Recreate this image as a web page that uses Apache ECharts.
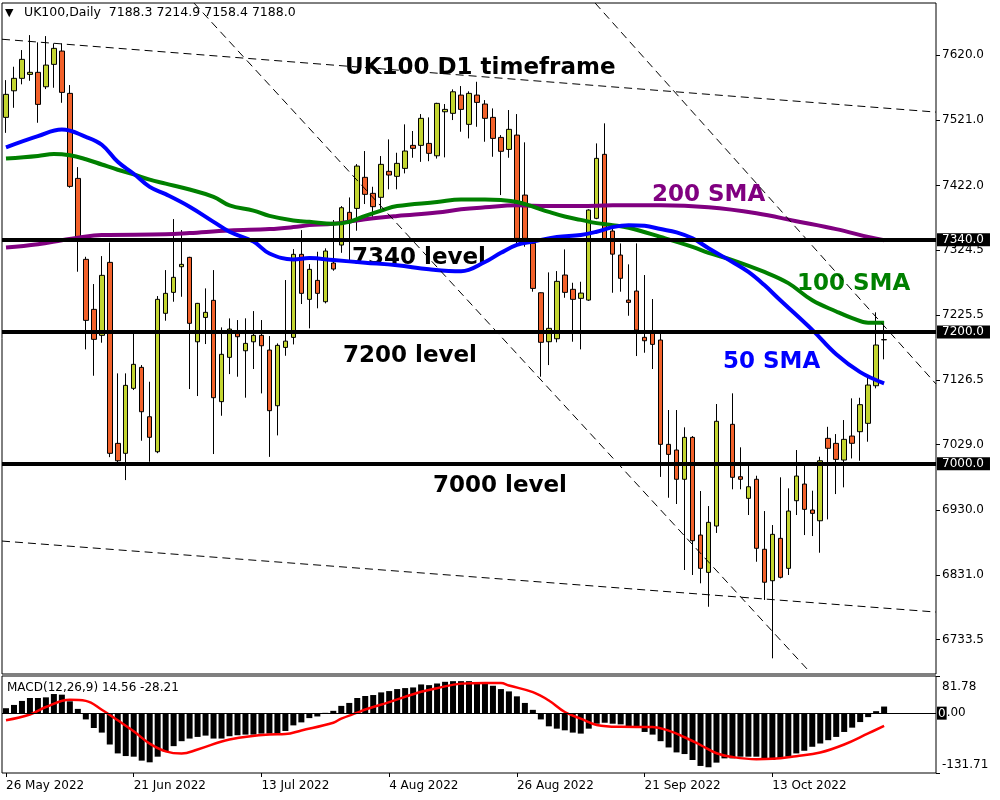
<!DOCTYPE html>
<html><head><meta charset="utf-8">
<script src="https://cdn.jsdelivr.net/npm/echarts@6/dist/echarts.min.js"></script>
<style>html,body{margin:0;padding:0;background:#fff}#c{width:1000px;height:800px}</style>
</head><body><div id="c"></div>
<script>
const dates = ['26 May 2022','27 May 2022','30 May 2022','31 May 2022','1 Jun 2022','6 Jun 2022','7 Jun 2022','8 Jun 2022','9 Jun 2022','10 Jun 2022',
'13 Jun 2022','14 Jun 2022','15 Jun 2022','16 Jun 2022','17 Jun 2022','20 Jun 2022','21 Jun 2022','22 Jun 2022','23 Jun 2022','24 Jun 2022',
'27 Jun 2022','28 Jun 2022','29 Jun 2022','30 Jun 2022','1 Jul 2022','4 Jul 2022','5 Jul 2022','6 Jul 2022','7 Jul 2022','8 Jul 2022',
'11 Jul 2022','12 Jul 2022','13 Jul 2022','14 Jul 2022','15 Jul 2022','18 Jul 2022','19 Jul 2022','20 Jul 2022','21 Jul 2022','22 Jul 2022',
'25 Jul 2022','26 Jul 2022','27 Jul 2022','28 Jul 2022','29 Jul 2022','1 Aug 2022','2 Aug 2022','3 Aug 2022','4 Aug 2022','5 Aug 2022',
'8 Aug 2022','9 Aug 2022','10 Aug 2022','11 Aug 2022','12 Aug 2022','15 Aug 2022','16 Aug 2022','17 Aug 2022','18 Aug 2022','19 Aug 2022',
'22 Aug 2022','23 Aug 2022','24 Aug 2022','25 Aug 2022','26 Aug 2022','30 Aug 2022','31 Aug 2022','1 Sep 2022','2 Sep 2022','5 Sep 2022',
'6 Sep 2022','7 Sep 2022','8 Sep 2022','9 Sep 2022','12 Sep 2022','13 Sep 2022','14 Sep 2022','15 Sep 2022','16 Sep 2022','20 Sep 2022',
'21 Sep 2022','22 Sep 2022','23 Sep 2022','26 Sep 2022','27 Sep 2022','28 Sep 2022','29 Sep 2022','30 Sep 2022','3 Oct 2022','4 Oct 2022',
'5 Oct 2022','6 Oct 2022','7 Oct 2022','10 Oct 2022','11 Oct 2022','12 Oct 2022','13 Oct 2022','14 Oct 2022','17 Oct 2022','18 Oct 2022',
'19 Oct 2022','20 Oct 2022','21 Oct 2022','24 Oct 2022','25 Oct 2022','26 Oct 2022','27 Oct 2022','28 Oct 2022','31 Oct 2022','1 Nov 2022',
'2 Nov 2022'];
const emptySlots = 6;

const opens = [7525.5,7565.8,7584.7,7590.7,7593.8,7571.9,7605.9,7626.1,7561.9,7432.9,
7310.1,7234.2,7194.8,7305.5,7030.9,7015.8,7114.4,7146.2,7071.3,7018.2,
7228.2,7260,7298.9,7313.1,7185,7222,7247.9,7094.2,7161.4,7198.7,
7171.4,7185,7194.8,7172.5,7088,7176.5,7191.7,7317.7,7249.4,7278.2,
7245.8,7304.5,7331.8,7381.4,7387.4,7434.5,7410.2,7404.2,7443.6,7436,
7448.1,7483,7483,7486,7467.2,7534,7531.6,7559.3,7514.9,7559.3,
7545.7,7525.5,7495.1,7476.9,7498.6,7407.6,7334.3,7259.4,7185.1,7189.6,
7286.3,7264.6,7250.9,7248.3,7372.3,7469.4,7353,7316.6,7248.3,7262,
7191.8,7197.8,7187.7,7029.4,7020.8,6976.4,7040,6891.8,6835.2,6905.5,
null,7059.8,6980.3,6947.5,6976.4,6870.2,6822.5,6886.8,6841.3,6943.9,
6969.2,6929.8,6913.5,7038.5,7030.9,7005.6,7042,7048.6,7061.3,7118.3,
7188.3];
const highs = [7582,7602.3,7627.6,7650.3,7639.3,7648.8,7637.7,7637.7,7574.5,7450,
7314,7272.6,7315,7335.9,7137.1,7137.1,7197.8,7149.7,7124.4,7254.4,
7293.8,7371.2,7354.5,7314,7244,7266,7293.8,7206.9,7220.5,7218,
7220.6,7231.6,7218,7193.7,7182.6,7278.7,7325.7,7354.5,7302.9,7321.6,
7326.8,7369.7,7390.9,7404,7454.6,7474.4,7420.2,7466.8,7492.1,7471.8,
7514.9,7504.8,7530.5,7525.5,7547.6,7545.7,7568,7573,7565,7579.5,
7551.7,7539.1,7498.6,7536.6,7530.5,7487.6,7341.9,7260,7290.3,7292.3,
7325.2,7274.6,7276.1,7386,7486,7516.4,7358,7334.3,7302.5,7334.3,
7286.3,7249.9,7197.8,7081.5,7081.5,7055.2,7042,6958.6,6935.8,7090.6,
null,7106.8,7024.9,6998,6981.8,6928.2,6907,6979.4,6962.7,7020.8,
6997.9,6959.1,7010.6,7056,7045,7066.3,7099.2,7100.1,7132,7229.7,
7214.9];
const lows = [7502,7540,7575.6,7581,7517.3,7568.4,7570.4,7547.6,7418.7,7291.3,
7173.5,7133.5,7183.6,7010,7002,6975.2,7111.8,7034.9,7003,7016,
7217,7245.8,7253.3,7113.3,7102.7,7181.6,7014.7,7072.8,7136,7132,
7100.2,7143.7,7106.7,7010.4,7043,7163.8,7181,7242.3,7205.4,7235.8,
7243.3,7292.8,7320,7309,7353.5,7394,7374.7,7384.9,7416.3,7416.3,
7440.5,7464.2,7458,7459,7463,7464.8,7521.4,7503.7,7493.6,7511.2,
7488.5,7465.7,7407.6,7464.2,7329.2,7329.2,7261,7132,7149.7,7184.2,
7251.8,7185.1,7173.5,7247,7371,7337,7259.4,7261,7224.5,7163.4,
7168.4,7143.7,6980,6948.4,6938.9,6838.8,6831.2,6818.6,6783,6895,
null,6961.2,6961.2,6922.2,6851.3,6793.3,6704.8,6826,6831.2,6922.2,
6891.8,6890.3,6865,6915.6,6954,6964.2,7008,7004.5,7033.4,7114.4,
7158.4];
const closes = [7560.4,7584.7,7613.5,7593.8,7545.2,7604.8,7630.2,7563.4,7420.8,7342,
7217.5,7188.7,7285.8,7015.8,7004.5,7118.9,7150.8,7078.9,7040.1,7249.4,
7258.5,7282.8,7302.5,7213,7243.3,7229.7,7100.2,7166,7204.3,7192.7,
7182.6,7194.8,7179,7080.5,7179.6,7186,7317.7,7258.5,7294.9,7258.5,
7322.7,7295.4,7388.4,7365.6,7451.6,7408.7,7390,7454.2,7438,7455.7,
7474.4,7478.5,7524,7470.9,7546.7,7537.6,7564.3,7537.6,7561.9,7548.2,
7524,7493.6,7474,7507.3,7341.9,7341.9,7266,7184.2,7205.4,7276.7,
7260,7249.4,7258.9,7384.9,7463.3,7337.8,7318,7281.3,7244.8,7202.8,
7186.6,7181.1,7029.4,7014.2,6976.4,7040,6883.2,6841.3,6911.1,7064.4,
null,6979.4,6976.4,6965.1,6871.7,6820.2,6892.9,6827.7,6928.2,6981.3,
6930.8,6924.7,7004.5,7023.4,7006.6,7037,7031,7089.6,7119.4,7180.1,
7188.0];

const sma50 = [[0,7480],[4,7497],[7,7507],[10,7496],[12,7484],[14,7458],[16,7440],[18,7420],[20,7409],[23,7390],[26,7367],[28,7352],[31,7337],[33,7319],[36,7310],[38,7312],[41,7309],[45,7305],[49,7301],[53,7295],[57,7292],[60,7306],[62,7320],[64,7332],[66,7337],[69,7344],[72,7347],[74,7352],[76,7359],[78,7362],[80,7361],[82,7356],[84,7351],[86,7342],[88,7327],[91,7306],[93,7291],[95,7271],[97,7248],[101,7203],[104,7166],[107,7139],[110,7122]];
const sma100 = [[0,7463],[4,7467],[6,7470],[8,7468],[10,7462],[12,7454],[14,7446],[16,7439],[18,7431],[20,7425],[23,7416],[26,7405],[28,7392],[31,7384],[33,7376],[36,7369],[38,7367],[41,7364],[43,7367],[45,7376],[47,7384],[49,7391],[54,7397],[57,7401],[60,7401],[62,7400],[64,7397],[66,7390],[68,7382],[70,7375],[72,7370],[74,7365],[76,7362],[78,7358],[82,7344],[86,7329],[88,7320],[91,7309],[95,7291],[98,7274],[101,7248],[104,7231],[106,7221],[108,7214],[110,7214]];
const sma200 = [[0,7328],[4,7333],[7,7339],[9,7343],[12,7347],[20,7348],[23,7350],[28,7354],[33,7356],[36,7359],[38,7362],[41,7364],[45,7371],[49,7376],[54,7381],[57,7386],[60,7389],[64,7392],[68,7391],[72,7391],[76,7392],[82,7392],[88,7389],[94,7380],[99,7368],[104,7356],[108,7344],[110,7339]];

const trendTop = [[-0.5,7644],[116.5,7533.5]];
const trendBottom = [[-0.5,6882.7],[116.5,6775]];
const trendSteep1 = [[23.55,7698.9],[100.47,6687]];
const trendSteep2 = [[73.8,7698.9],[116.5,7121]];

const levels = [7340, 7200, 7000];
const lastPrice = 7188.0;
const priceTicks = [7620.0,7521.0,7422.0,7324.5,7225.5,7126.5,7029.0,6930.0,6831.0,6733.5];

const macdHist = [10.9,18.1,26.9,33.4,33.4,34.8,42.1,40.7,26.1,9.4,
-13.8,-32.7,-42.8,-69,-88.6,-94.4,-95.8,-104.5,-108.2,-95.8,
-84.2,-72.6,-61.7,-55.9,-52.3,-49.4,-55.9,-55.9,-50.8,-48.6,
-47.2,-47.2,-45,-45,-45,-39.2,-26.9,-20.3,-10.9,-7.3,
0.7,5.1,16,22.5,33.4,37.8,39.9,45.7,48.6,53,
55.2,56.6,63.2,61.7,65.3,69,70.4,70.4,70.4,67.5,
67,60.3,53,47.9,37,22.5,7.3,-13.8,-29,-34.1,
-37.8,-42.8,-45,-34.1,-23.2,-21.1,-23.2,-24.7,-28.3,-29,
-41.4,-47.2,-61.7,-75.5,-86.4,-90,-103.1,-116.2,-119.1,-108.9,
-99.5,-99.5,-95.8,-95.8,-95.8,-101.6,-103.1,-99.5,-95.8,-88.6,
-82.8,-74,-66.8,-59.5,-52.3,-41.4,-31.9,-19.6,-8.7,4.4,14.56];
const macdSignal = [[0,-15.7],[3,-3],[5,13.5],[8,29.4],[10,27],[12,7.6],[14,-15.7],[16,-40],[18,-67],[20,-84],[22,-89],[24,-80],[28,-58],[33,-46.8],[35,-46],[37,-38],[41,-21],[42,-12],[44,1],[45,8],[48,24.4],[52,47],[54,55],[57,65],[60,66.4],[62,66.4],[63,61],[66,46.2],[68,27.9],[70,2.6],[72,-12],[74,-26],[77,-30.1],[81,-30.5],[83,-38.5],[85,-53],[87,-70.1],[89,-88.2],[91,-96.5],[94,-101.3],[96,-100.6],[99,-94.7],[102,-86.7],[105,-69],[108,-44.6],[110,-28.21]];
const macdTicks = [81.78, -131.71];

const cats = dates.concat(new Array(emptySlots).fill(''));
const candles = dates.map((d,i)=> opens[i]==null ? ['-','-','-','-'] : [opens[i], closes[i], lows[i], highs[i]]);
const nCat = cats.length;
const FONT = 'DejaVu Sans';

const chart = echarts.init(document.getElementById('c'), null, {renderer:'canvas'});
const dashed = (d)=>({type:'line', xAxisIndex:2, yAxisIndex:0, data:d, showSymbol:false, silent:true, z:4,
  lineStyle:{color:'#000', width:1, type:[8,5]}});
const levelLabel = (txt)=>({show:true, position:'end', distance:1, formatter:txt, backgroundColor:'#000', color:'#fff',
  fontFamily:FONT, fontSize:12, padding:[1,6,0,5]});

chart.setOption({
  animation:false,
  backgroundColor:'#fff',
  grid:[
    {left:2, top:3, width:934, height:671, show:true, borderColor:'#000', borderWidth:1, backgroundColor:'#fff'},
    {left:2, top:676, width:934, height:97, show:true, borderColor:'#000', borderWidth:1, backgroundColor:'#fff'}
  ],
  xAxis:[
    {type:'category', gridIndex:0, data:cats, boundaryGap:true, axisLine:{show:false, onZero:false}, axisTick:{show:false}, axisLabel:{show:false}, splitLine:{show:false}},
    {type:'category', gridIndex:1, data:cats, boundaryGap:true, axisLine:{show:false, onZero:false},
     axisTick:{show:true, alignWithLabel:true, length:4, lineStyle:{color:'#000'}, interval:(i,v)=> i%16===0 && v!==''},
     axisLabel:{interval:(i,v)=> i%16===0 && v!=='', align:'left', margin:7, color:'#000', fontFamily:FONT, fontSize:12},
     splitLine:{show:false}},
    {type:'value', gridIndex:0, min:-0.5, max:nCat-0.5, show:false, axisLine:{onZero:false}},
    {type:'value', gridIndex:1, min:-0.5, max:nCat-0.5, show:false, axisLine:{onZero:false}}
  ],
  yAxis:[
    {type:'value', gridIndex:0, position:'right', min:6681, max:7699, scale:true, splitLine:{show:false},
     axisLine:{show:false, onZero:false},
     axisTick:{show:true, length:4, customValues:priceTicks, lineStyle:{color:'#000'}},
     axisLabel:{customValues:priceTicks, formatter:(v)=>v.toFixed(1), margin:6, color:'#000', fontFamily:FONT, fontSize:12}},
    {type:'value', gridIndex:1, position:'right', min:-131.71, max:81.78, splitLine:{show:false},
     axisLine:{show:false, onZero:false},
     axisTick:{show:true, length:4, customValues:macdTicks, lineStyle:{color:'#000'}},
     axisLabel:{customValues:macdTicks, margin:6, color:'#000', fontFamily:FONT, fontSize:12,
       formatter:(v)=> v>0 ? '{t|'+v.toFixed(2)+'}' : '{b|'+v.toFixed(2)+'}',
       rich:{t:{padding:[21,0,0,0], fontFamily:FONT, fontSize:12, color:'#000'}, b:{padding:[0,0,17,0], fontFamily:FONT, fontSize:12, color:'#000'}}}}
  ],
  series:[
    {type:'candlestick', name:'UK100', xAxisIndex:0, yAxisIndex:0, data:candles, barWidth:5, z:2,
     itemStyle:{color:'#c3d530', color0:'#f2612a', borderColor:'#000', borderColor0:'#000', borderWidth:1}},
    {type:'line', name:'200 SMA', xAxisIndex:2, yAxisIndex:0, data:sma200, smooth:0.4, showSymbol:false, z:3, lineStyle:{color:'#800080', width:4}},
    {type:'line', name:'100 SMA', xAxisIndex:2, yAxisIndex:0, data:sma100, smooth:0.4, showSymbol:false, z:3, lineStyle:{color:'#008000', width:4}},
    {type:'line', name:'50 SMA', xAxisIndex:2, yAxisIndex:0, data:sma50, smooth:0.4, showSymbol:false, z:3, lineStyle:{color:'#0000ff', width:4}},
    dashed(trendTop), dashed(trendBottom), dashed(trendSteep1), dashed(trendSteep2),
    {type:'line', name:'levels', xAxisIndex:2, yAxisIndex:0, data:[], z:6, silent:true,
     markLine:{silent:true, symbol:['none','none'], animation:false,
       data:[
         {yAxis:lastPrice, lineStyle:{width:0, opacity:0}, label:levelLabel(lastPrice.toFixed(1))},
         ...levels.map(v=>({yAxis:v, lineStyle:{color:'#000', width:4, type:'solid'}, label:levelLabel(v.toFixed(1))}))
       ]}},
    {type:'bar', name:'MACD', xAxisIndex:1, yAxisIndex:1, data:macdHist, barWidth:6, itemStyle:{color:'#000'}, z:2,
     markLine:{silent:true, symbol:['none','none'], animation:false,
       data:[{yAxis:0, lineStyle:{color:'#000', width:1, type:'solid'},
         label:{show:true, position:'end', distance:1, formatter:'{a|0}{b|.00}',
           rich:{a:{backgroundColor:'#000', color:'#fff', fontFamily:FONT, fontSize:12, padding:[1,1,0,1]}, b:{color:'#000', fontFamily:FONT, fontSize:12}}}}]}},
    {type:'line', name:'Signal', xAxisIndex:3, yAxisIndex:1, data:macdSignal, smooth:0.4, showSymbol:false, z:3, lineStyle:{color:'#ff0000', width:2.5}}
  ],
  graphic:[
    {type:'text', x:5, y:13, style:{text:'▼', fill:'#000', font:'11px "DejaVu Sans"', verticalAlign:'middle'}},
    {type:'text', x:24, y:13, style:{text:'UK100,Daily  7188.3 7214.9 7158.4 7188.0', fill:'#000', font:'12.5px "DejaVu Sans"', verticalAlign:'middle'}},
    {type:'text', x:7, y:688, style:{text:'MACD(12,26,9) 14.56 -28.21', fill:'#000', font:'12px "DejaVu Sans"', verticalAlign:'middle'}},
    {type:'text', x:345, y:68, style:{text:'UK100 D1 timeframe', fill:'#000', font:'bold 23px "DejaVu Sans"', verticalAlign:'middle'}},
    {type:'text', x:652, y:195, style:{text:'200 SMA', fill:'#800080', font:'bold 23px "DejaVu Sans"', verticalAlign:'middle'}},
    {type:'text', x:352, y:258, style:{text:'7340 level', fill:'#000', font:'bold 23px "DejaVu Sans"', verticalAlign:'middle'}},
    {type:'text', x:797, y:284, style:{text:'100 SMA', fill:'#008000', font:'bold 23px "DejaVu Sans"', verticalAlign:'middle'}},
    {type:'text', x:343, y:356, style:{text:'7200 level', fill:'#000', font:'bold 23px "DejaVu Sans"', verticalAlign:'middle'}},
    {type:'text', x:723, y:362, style:{text:'50 SMA', fill:'#0000ff', font:'bold 23px "DejaVu Sans"', verticalAlign:'middle'}},
    {type:'text', x:433, y:486, style:{text:'7000 level', fill:'#000', font:'bold 23px "DejaVu Sans"', verticalAlign:'middle'}}
  ]
});
</script></body></html>
